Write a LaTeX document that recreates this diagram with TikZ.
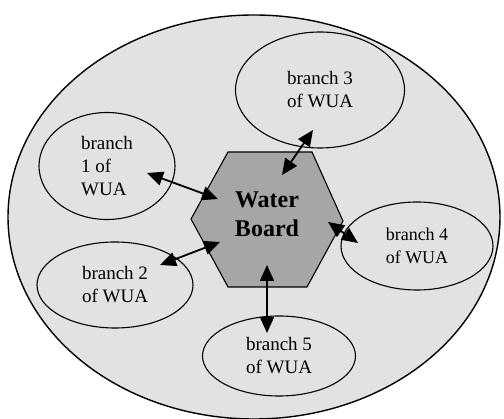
\documentclass[tikz,border=0pt]{standalone}
\usepackage{fontspec}
\setmainfont{Liberation Serif}
\newfontfamily\wuaserif{Liberation Serif}
\usetikzlibrary{shapes.geometric,arrows.meta}
\definecolor{bgin}{HTML}{E2E2E2}
\definecolor{hexfill}{HTML}{A6A6A6}
\tikzset{
  branch/.style={ellipse, draw=black, line width=1.1pt, fill=bgin, inner sep=0pt,
     font=\wuaserif\fontsize{19}{23}\selectfont, align=center},
  link/.style={line width=1.8pt, {Triangle[length=16pt,width=14pt]}-{Triangle[length=16pt,width=14pt]}},
}
\begin{document}
\begin{tikzpicture}[x=1pt,y=-1pt]
\useasboundingbox (0,0) rectangle (504,419);
\fill[white] (0,0) rectangle (504,419);
% outer ellipse
\draw[line width=1.4pt, fill=bgin] (254,217) ellipse[x radius=246, y radius=202];
% branches
\node[branch, minimum width=169pt, minimum height=116pt] (b3) at (320,90) {branch 3\\of WUA};
\node[branch, minimum width=136pt, minimum height=107pt, align=left] (b1) at (107,166) {branch\\1 of\\WUA};
\node[branch, minimum width=152pt, minimum height=88pt, font=\wuaserif\fontsize{18}{23}\selectfont] (b4) at (417,246) {branch 4\\of WUA};
\node[branch, minimum width=156pt, minimum height=86pt] (b2) at (115,285) {branch 2\\of WUA};
\node[branch, minimum width=153pt, minimum height=80pt] (b5) at (279,356) {branch 5\\of WUA};
% hexagon
\draw[line width=1.1pt, fill=hexfill] (228,152) -- (312,152) -- (343,221) -- (307,287) -- (228,287) -- (191,219) -- cycle;
\node[font=\wuaserif\fontsize{24}{29}\selectfont\bfseries, align=center] (wb) at (267,214) {Water\\Board};
% arrow ends
\coordinate (a1s) at (147,173); \coordinate (a1e) at (218,199);
\coordinate (a2s) at (160,265); \coordinate (a2e) at (220,242);
\coordinate (a3s) at (313,130); \coordinate (a3e) at (282,175);
\coordinate (a4s) at (358,243); \coordinate (a4e) at (328,222);
\coordinate (a5s) at (267,333); \coordinate (a5e) at (267,265);
\draw[link] (a1s) -- (a1e);
\draw[link] (a2s) -- (a2e);
\draw[link] (a3s) -- (a3e);
\draw[link] (a4s) -- (a4e);
\draw[link] (a5s) -- (a5e);
\end{tikzpicture}
\end{document}
